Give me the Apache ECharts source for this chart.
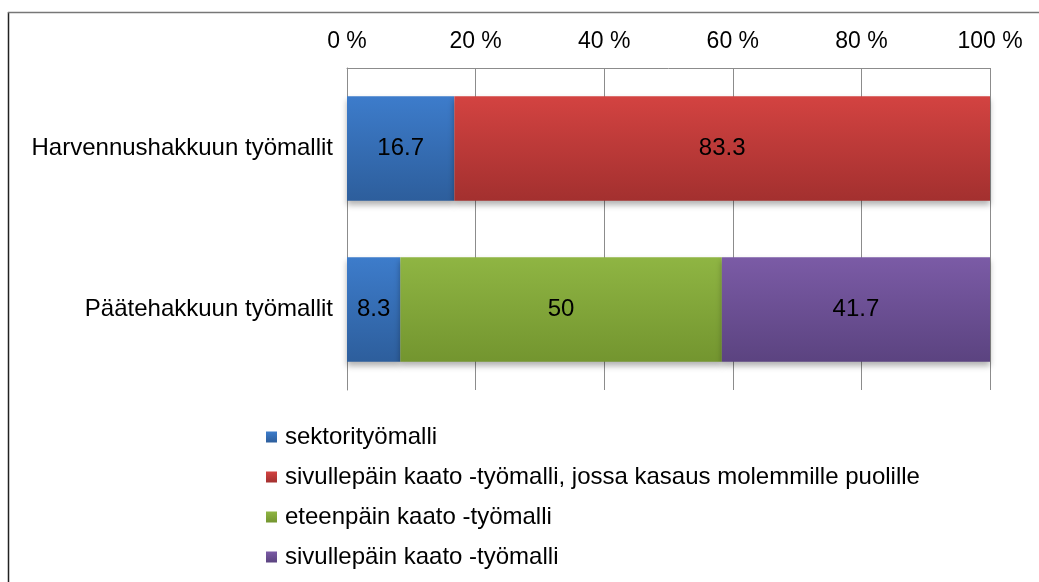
<!DOCTYPE html>
<html>
<head>
<meta charset="utf-8">
<script src="https://cdn.jsdelivr.net/npm/echarts@6/dist/echarts.min.js"></script>
<style>
  html, body { margin: 0; padding: 0; background: #fff; }
  #chart { width: 1039px; height: 582px; }
</style>
</head>
<body>
<div id="chart"></div>
<script>
// kategoriat (ylhäältä alas)
const categories = ['Harvennushakkuun työmallit', 'Päätehakkuun työmallit'];
const seriesNames = [
  'sektorityömalli',
  'sivullepäin kaato -työmalli, jossa kasaus molemmille puolille',
  'eteenpäin kaato -työmalli',
  'sivullepäin kaato -työmalli'
];
// osuudet %, null = ei palkkia
const sektori = [16.7, 8.3];
const sivulleKasaus = [83.3, null];
const eteenpain = [null, 50];
const sivulle = [null, 41.7];
const xTicks = [0, 20, 40, 60, 80, 100];

const values = [sektori, sivulleKasaus, eteenpain, sivulle];
// värit: ylä / ala (liukuväri)
const colors = [
  ['#3d7ccb', '#2d5e9c'],
  ['#d34341', '#a3302f'],
  ['#8fb543', '#73952f'],
  ['#7b5ba6', '#5b4380']
];

function grad(c) {
  return new echarts.graphic.LinearGradient(0, 0, 0, 1, [
    { offset: 0, color: c[0] },
    { offset: 1, color: c[1] }
  ]);
}

const chart = echarts.init(document.getElementById('chart'));
const font = 'Liberation Sans, Arial, sans-serif';

let option = {
  backgroundColor: '#fff',
  animation: false,
  textStyle: { fontFamily: font },
  grid: { left: 347, right: 49, top: 68, bottom: 192, containLabel: false },
  xAxis: {
    type: 'value',
    position: 'top',
    min: xTicks[0],
    max: xTicks[xTicks.length - 1],
    interval: 20,
    axisLine: { show: true, lineStyle: { color: '#8c8c8c', width: 1 } },
    axisTick: { show: false },
    axisLabel: { formatter: '{value} %', fontSize: 23, color: '#000', margin: 15, fontFamily: font },
    splitLine: { show: true, lineStyle: { color: '#8c8c8c', width: 1 } }
  },
  yAxis: {
    type: 'category',
    inverse: true,
    data: categories,
    axisLine: { show: true, lineStyle: { color: '#8c8c8c', width: 1 } },
    axisTick: { show: false },
    axisLabel: { fontSize: 24, color: '#000', margin: 14, fontFamily: font }
  },
  legend: {
    orient: 'vertical',
    left: 261,
    top: 420,
    icon: 'rect',
    itemWidth: 11,
    itemHeight: 11,
    itemGap: 16,
    textStyle: { fontSize: 24, color: '#000', lineHeight: 24, fontFamily: font, padding: [0, 0, 0, 3] },
    data: seriesNames
  },
  graphic: [
    { type: 'line', shape: { x1: 8.5, y1: 12, x2: 8.5, y2: 600 }, style: { stroke: '#222', lineWidth: 1.5 } },
    { type: 'line', shape: { x1: 8, y1: 12.5, x2: 1100, y2: 12.5 }, style: { stroke: '#777', lineWidth: 1.5 } }
  ],
  series: seriesNames.map(function (name, i) {
    return {
      name: name,
      type: 'bar',
      stack: 'total',
      barWidth: '65%',
      data: values[i],
      itemStyle: {
        color: grad(colors[i]),
        shadowBlur: 6,
        shadowOffsetY: 4,
        shadowColor: 'rgba(0,0,0,0.3)'
      },
      label: {
        show: true,
        position: 'inside',
        color: '#000',
        fontSize: 24,
        fontFamily: font,
        formatter: function (p) { return p.value == null ? '' : String(p.value); }
      }
    };
  })
};

chart.setOption(option);
window.onresize = chart.resize;
</script>
</body>
</html>
